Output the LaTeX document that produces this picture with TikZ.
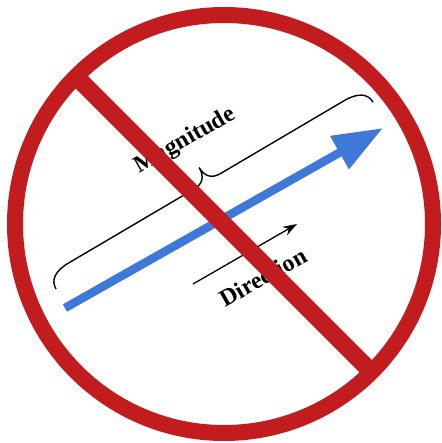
\documentclass[tikz,border=0pt]{standalone}
\usepackage{fontspec}
\setmainfont{Liberation Serif}
\usepackage{tikz}
\usetikzlibrary{arrows.meta}
\definecolor{banred}{HTML}{C21C1F}
\definecolor{vecblue}{HTML}{3E78D8}

\begin{document}
\begin{tikzpicture}[
  x=1pt,y=-1pt,
  vec/.style={draw=vecblue,line width=8.5pt,-{Triangle[length=50pt,width=36pt,fill=vecblue]}},
  arr/.style={-{Stealth[length=5mm,width=3.4mm]},line width=1.3pt},
  brc/.style={draw,line width=1.4pt},
  lbl/.style={font=\bfseries\fontsize{24}{24}\selectfont,rotate=29.5,inner sep=0pt},
  ban/.style={draw=banred,line width=16pt}
]
\useasboundingbox (0,0) rectangle (441,443);
\coordinate (tail) at (65,308);
\coordinate (tip) at (383,128);
\coordinate (brcl) at (56,289);
\coordinate (dirl) at (193,284);
\coordinate (dirr) at (297,224);
\coordinate (banl) at (75,75.5);
\coordinate (banr) at (372,372.5);
\draw[vec] (tail) -- (tip);
% brace, drawn along its own axis
\begin{scope}[shift={(brcl)},rotate=30.5,x=1pt,y=1pt]
\draw[brc] (0,0) .. controls (0,10) and (8,16) .. (24,16) -- (170,16)
  .. controls (180,16) and (185,22) .. (185,32)
  .. controls (185,22) and (190,16) .. (200,16) -- (344,16)
  .. controls (360,16) and (368,10) .. (368,0);
\end{scope}
\draw[arr] (dirl) -- (dirr);
\node[lbl] (mag) at (185,141) {Magnitude};
\node[lbl] (dir) at (263,277) {Direction};
% the ban sign goes over everything
\draw[ban,line width=17.5pt] (banl) -- (banr);
\node[ban,circle,minimum size=418pt,inner sep=0pt] (ring) at (224,224) {};
\end{tikzpicture}
\end{document}
